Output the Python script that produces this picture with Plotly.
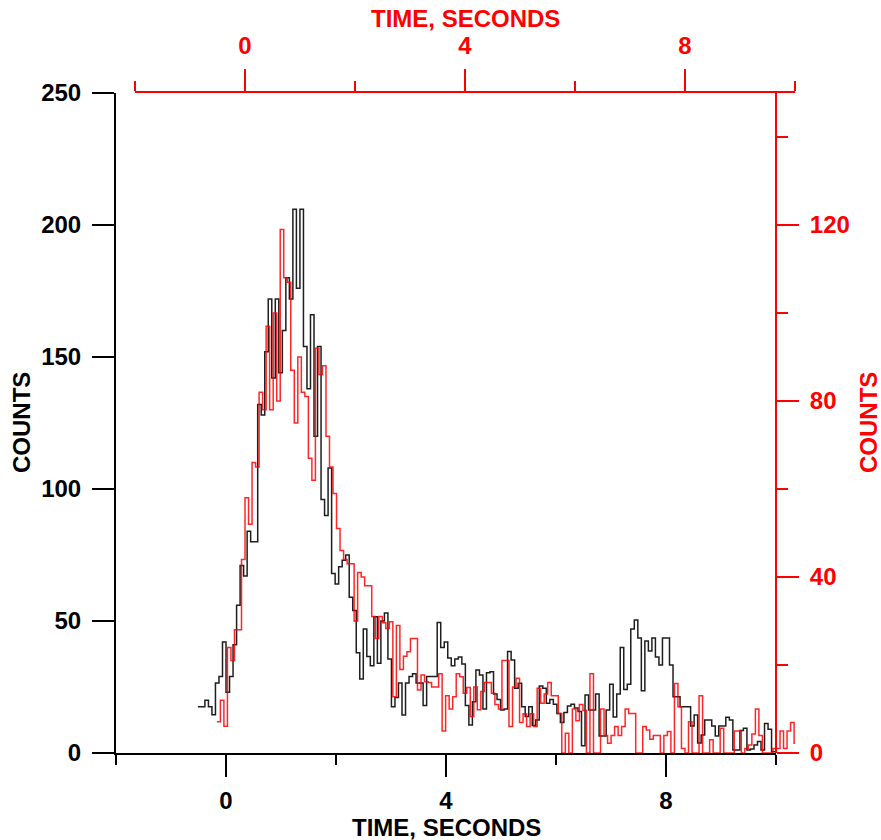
import numpy as np
import plotly.graph_objects as go

W, H = 881, 840
FONT = "Liberation Sans, Arial, Helvetica, sans-serif"
RED = "#ff0000"

# ---------------- data (64 ms bins) ----------------
BIN = 0.064
black_start = -0.512   # seconds, bottom (black) time axis
red_start = -0.512     # seconds, top (red) time axis

black_counts = [
    17.5, 17.5, 20, 17.5, 14.5, 26.5, 29, 42, 23, 29, 41, 56, 71, 67, 84, 80, 80,
    132, 128, 152, 172, 142, 172, 144, 160, 180, 172, 206, 176, 206, 154, 138, 166, 120, 154,
    96, 90, 108, 68, 64, 70.5, 73, 75, 59, 54, 38, 28, 47, 36.5, 33, 51.6, 34, 50, 53, 35.6,
    17.5, 21, 26.5, 14.4, 26.5, 29, 30, 26.5, 26.5, 18,
    29, 29, 29, 49.4, 40, 42, 36, 33, 35.6, 36.4, 33.7, 18, 10.6, 19.4, 31.4, 29.5, 16.7,
    30.4, 30.8, 22.3, 20.3, 16.3, 16.7, 38.4, 35.2, 24.5, 26.4, 17.5, 13.8, 17.5, 10.4, 12.5,
    25.4, 24.5, 18.8, 20.3, 18.5, 15, 11.5, 15.3, 17.8, 18.5, 17,
    15.7, 2.7, 22, 16.3, 16.3, 22.3, 6.4, 6.4, 16.3, 26, 13.6, 22.3, 40, 24, 26, 47, 50.4,
    43.6, 23.6, 42.4, 38.6, 43.6, 36.4, 33.3, 43.6, 43.6, 33.3, 21.3, 21.3, 17.5, 17.5, 17.5,
    10.2, 14.4, 3.8, 6.8, 12.5, 12.5, 10.2, 6.4, 10.2, 10.2, 13.5, 12.5, 1.1, 1.1, 8.5, 9.4,
    1.1, 1.5, 3, 4.3, 1.1, 11.2, 9, 0.5,
]

red_counts = [
    7.1, 12, 6.1, 24, 21, 28, 28, 44, 58, 52, 66, 65,
    82, 78, 97, 78, 100, 80, 119, 108, 107, 87, 75, 90, 82, 81, 67, 62, 92, 86, 88, 72,
    65, 59, 51, 46, 44, 43, 43, 30, 41, 40, 38, 38, 31, 26, 31, 29.6, 28.3, 29.8, 12.8, 29,
    19, 22, 23, 26, 26, 14.3, 17.7, 16.2, 16,
    15, 15, 18, 5, 13, 10, 12.8, 18, 17.3, 13.6, 14.9, 8.3, 15, 9.8, 14, 16, 16, 13.6, 11, 10,
    21, 21, 6, 15, 17, 6.9, 8.9, 6, 8.9, 6, 14.7, 11.3, 13.4, 16, 13, 13, 9, 0, 4.5, 0,
    10, 7.3, 11, 9.7, 0, 18,
    0, 0, 10, 4, 2.2, 4, 6, 4, 6, 10, 9, 9, 0, 0, 6, 5.2, 3.1, 4, 4, 0, 4, 4.9, 0, 15.8,
    10.5, 1, 0, 7.1, 0, 0, 13, 0, 0, 3, 0, 0, 5.6, 0, 0, 0, 5, 5, 0, 1, 1.8, 4.3, 10, 4,
    0, 0, 0, 1, 1, 5, 1, 5, 6.9, 2.2,
]

bottom_ticks = [0, 4, 8]
bottom_minor = [-2, 2, 6, 10]
left_ticks = [0, 50, 100, 150, 200, 250]
top_ticks = [0, 4, 8]
top_minor = [-2, 2, 6, 10]
right_ticks = [0, 40, 80, 120]
right_minor = [20, 60, 100, 140]

x_title = "TIME, SECONDS"
y_title = "COUNTS"

# ---------------- step traces ----------------
bx = black_start + BIN * np.arange(len(black_counts) + 1)
by = black_counts + [black_counts[-1]]
rx = red_start + BIN * np.arange(len(red_counts) + 1)
ry = red_counts + [red_counts[-1]]

fig = go.Figure()
fig.add_trace(go.Scatter(x=bx, y=by, mode="lines", xaxis="x", yaxis="y",
                         line=dict(shape="hv", color="#1e1e1e", width=1.5),
                         hoverinfo="skip", showlegend=False))
fig.add_trace(go.Scatter(x=rx, y=ry, mode="lines", xaxis="x2", yaxis="y2",
                         line=dict(shape="hv", color="rgba(255,0,0,0.85)", width=1.5),
                         hoverinfo="skip", showlegend=False))


def tf(color):
    return dict(family=FONT, size=24, color=color, weight="bold")


common = dict(showgrid=False, zeroline=False, showline=True, linewidth=2,
              ticks="outside", tickwidth=2, ticklen=22, automargin=False,
              tickmode="array")

ydom = [87 / H, 747 / H]

fig.update_layout(
    width=W, height=H, margin=dict(l=0, r=0, t=0, b=0),
    paper_bgcolor="white", plot_bgcolor="rgba(0,0,0,0)", showlegend=False,
    xaxis=dict(domain=[116 / W, 776 / W], range=[-2.0005, 10.0005], anchor="y", side="bottom",
               linecolor="black", tickcolor="black", tickvals=bottom_ticks,
               tickfont=tf("black"), ticklabelstandoff=3,
               minor=dict(tickmode="array", tickvals=bottom_minor, ticks="outside",
                          ticklen=10, tickwidth=2, tickcolor="black", showgrid=False),
               **common),
    yaxis=dict(domain=ydom, range=[-0.01, 250.01], anchor="x", side="left",
               linecolor="black", tickcolor="black", tickvals=left_ticks,
               tickfont=tf("black"), ticklabelstandoff=6, **common),
    xaxis2=dict(domain=[135 / W, 795 / W], range=[-2.0005, 10.0005], anchor="y2", side="top",
                linecolor=RED, tickcolor=RED, tickvals=top_ticks,
                tickfont=tf(RED), ticklabelstandoff=5,
                minor=dict(tickmode="array", tickvals=top_minor, ticks="outside",
                           ticklen=10, tickwidth=2, tickcolor=RED, showgrid=False),
                **common),
    yaxis2=dict(domain=ydom, range=[-0.006, 150.006], anchor="free", position=776 / W,
                side="right", linecolor=RED, tickcolor=RED, tickvals=right_ticks,
                tickfont=tf(RED), ticklabelstandoff=6,
                minor=dict(tickmode="array", tickvals=right_minor, ticks="outside",
                           ticklen=11, tickwidth=2, tickcolor=RED, showgrid=False),
                **common),
)

ann = dict(showarrow=False, xref="paper", yref="paper")
fig.add_annotation(text=x_title, x=446 / W, y=1 - 827 / H, xanchor="center", yanchor="middle",
                   font=tf("black"), **ann)
fig.add_annotation(text=x_title, x=465 / W, y=1 - 18 / H, xanchor="center", yanchor="middle",
                   font=tf(RED), **ann)
fig.add_annotation(text=y_title, x=21 / W, y=1 - 423 / H, xanchor="center", yanchor="middle",
                   textangle=-90, font=tf("black"), **ann)
fig.add_annotation(text=y_title, x=868 / W, y=1 - 423 / H, xanchor="center", yanchor="middle",
                   textangle=-90, font=tf(RED), **ann)

fig.write_html("out.html")
